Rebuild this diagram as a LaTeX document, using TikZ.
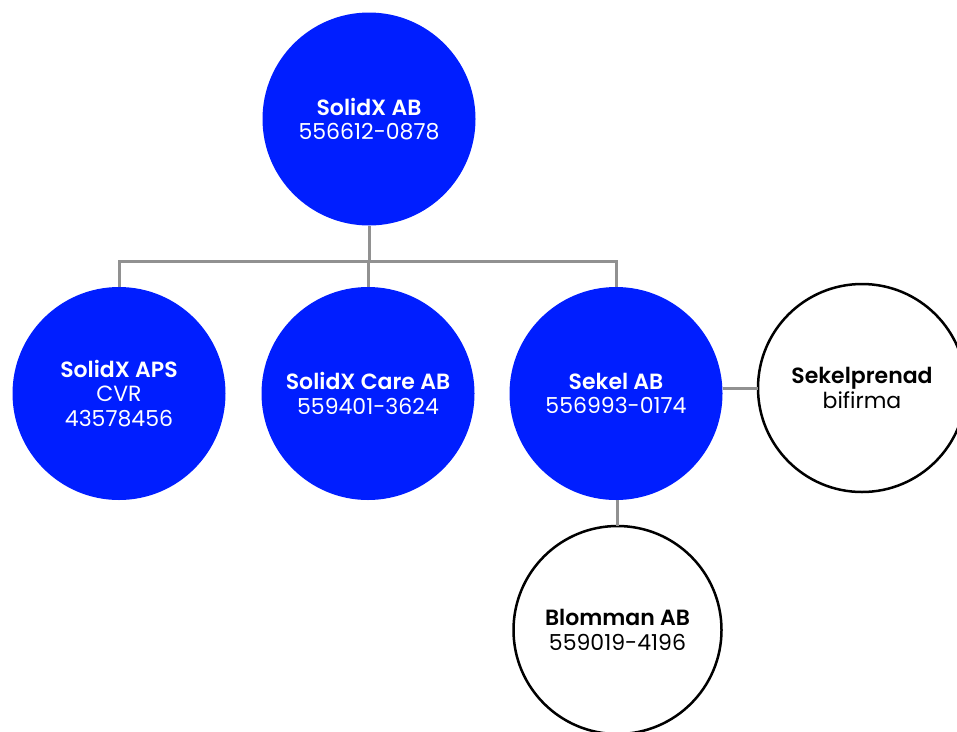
\documentclass[tikz,border=0pt]{standalone}
\usepackage{fontspec}
\setmainfont{Poppins}[BoldFont={Poppins SemiBold}]
\newfontfamily\numfont{Poppins}
\definecolor{corpblue}{RGB}{0,30,255}
\definecolor{conngray}{RGB}{145,145,145}
\begin{document}
\begin{tikzpicture}[x=1pt,y=-1pt,
  bluecirc/.style={circle,fill=corpblue,text=white,minimum size=213pt,inner sep=0pt,outer sep=0pt,align=center,font=\fontsize{22}{24.5}\selectfont},
  whitecirc/.style={circle,draw=black,line width=2.5pt,fill=white,text=black,minimum size=208pt,inner sep=0pt,outer sep=0pt,align=center,font=\fontsize{22}{24.5}\selectfont},
  conn/.style={draw=conngray,line width=3pt}]
\useasboundingbox (0,0) rectangle (957,731);
\fill[white] (0,0) rectangle (957,731);
\coordinate (bus) at (0,261);
\node[bluecirc] (top) at (369,119) {\textbf{SolidX AB}\\{\numfont 556612-0878}};
\node[bluecirc] (aps) at (119,393.5) {\textbf{SolidX APS}\\{\numfont CVR}\\{\numfont 43578456}};
\node[bluecirc] (care) at (368,393.5) {\textbf{SolidX Care AB}\\{\numfont 559401-3624}};
\node[bluecirc] (sekel) at (616,393.5) {\textbf{Sekel AB}\\{\numfont 556993-0174}};
\node[whitecirc] (prenad) at (862,388) {\textbf{Sekelprenad}\\{\numfont bifirma}};
\node[whitecirc] (blomman) at (617.5,630) {\textbf{Blomman AB}\\{\numfont 559019-4196}};
\draw[conn] (top.south) -- (top.south |- bus);
\draw[conn] (aps.north) -- (aps.north |- bus) -- (sekel.north |- bus) -- (sekel.north);
\draw[conn] (care.north) -- (care.north |- bus);
\draw[conn] (sekel.east |- prenad.west) -- (prenad.west);
\draw[conn] (sekel.south -| blomman.north) -- (blomman.north);
\end{tikzpicture}
\end{document}
